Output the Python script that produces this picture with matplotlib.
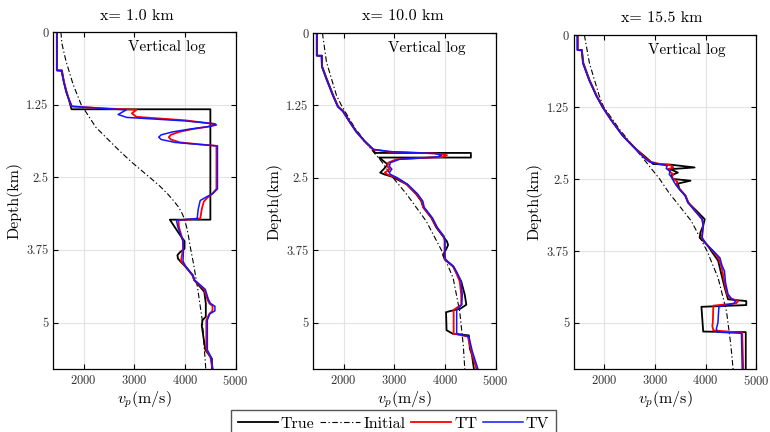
import matplotlib
matplotlib.use("Agg")
import matplotlib.pyplot as plt

plt.rcParams["font.family"] = "cmr10"
plt.rcParams["mathtext.fontset"] = "cm"
plt.rcParams["axes.unicode_minus"] = False
plt.rcParams["axes.formatter.use_mathtext"] = True

# ---- panel 1 : x = 1.0 km ----
depth_true_1 = [0, 0.66, 0.66, 0.86, 1.04, 1.14, 1.30, 1.33, 1.33, 3.23, 3.23, 3.48, 3.60,
                3.73, 3.79, 3.84, 3.90, 3.96, 4.02, 4.19, 4.27, 4.47, 4.67, 4.90, 4.96,
                5.05, 5.47, 5.59, 5.62, 5.8]
vp_true_1 = [1470, 1470, 1570, 1610, 1665, 1700, 1750, 1760, 4500, 4500, 3700, 3890, 3990,
             3990, 3900, 3850, 3860, 3920, 3990, 4150, 4180, 4380, 4410, 4410, 4345,
             4330, 4400, 4500, 4530, 4530]
depth_init_1 = [0, 0.2, 0.5, 0.9, 1.25, 1.64, 2.04, 2.25, 2.5, 2.65, 2.79, 2.9, 3.0, 3.1,
                3.19, 3.35, 3.5, 3.73, 4.0, 4.39, 4.96, 5.8]
vp_init_1 = [1550, 1570, 1650, 1790, 1950, 2240, 2700, 2960, 3300, 3500, 3660, 3770, 3860,
             3930, 3975, 4030, 4065, 4110, 4170, 4245, 4340, 4410]
depth_tt_1 = [0, 0.66, 0.67, 0.86, 1.04, 1.14, 1.28, 1.31, 1.34, 1.40, 1.46, 1.52, 1.58,
              1.60, 1.63, 1.67, 1.72, 1.77, 1.81, 1.85, 1.90, 1.93, 1.96, 2.70, 2.78,
              2.86, 2.92, 3.05, 3.21, 3.24, 3.36, 3.60, 3.73, 3.94, 4.02, 4.19, 4.27, 4.43,
              4.60, 4.67, 4.72, 4.80, 4.85, 4.96, 5.47, 5.59, 5.8]
vp_tt_1 = [1470, 1470, 1565, 1610, 1660, 1700, 1760, 2300, 3040, 2950, 3040, 4000, 4560,
           4590, 4450, 4150, 3880, 3720, 3680, 3720, 3900, 4250, 4620, 4620, 4540,
           4430, 4370, 4330, 4300, 3870, 3880, 3960, 3960, 3920, 4000, 4150, 4180, 4380,
           4440, 4480, 4545, 4540, 4480, 4420, 4420, 4500, 4540]
depth_tv_1 = [0, 0.66, 0.67, 0.86, 1.04, 1.14, 1.28, 1.31, 1.34, 1.42, 1.47, 1.53, 1.58,
              1.60, 1.63, 1.67, 1.72, 1.77, 1.81, 1.85, 1.90, 1.93, 1.96, 2.70, 2.78,
              2.84, 2.90, 3.05, 3.21, 3.24, 3.36, 3.60, 3.73, 3.94, 4.02, 4.19, 4.27, 4.43,
              4.60, 4.67, 4.72, 4.80, 4.85, 4.96, 5.47, 5.59, 5.8]
vp_tv_1 = [1470, 1470, 1560, 1605, 1655, 1700, 1770, 2300, 2840, 2680, 2850, 4000, 4590,
           4620, 4450, 4100, 3750, 3530, 3480, 3530, 3800, 4200, 4640, 4640, 4550,
           4420, 4300, 4260, 4240, 3830, 3860, 3960, 3970, 3960, 4000, 4160, 4190, 4400,
           4460, 4500, 4590, 4590, 4490, 4440, 4440, 4510, 4550]

# ---- panel 2 : x = 10.0 km ----
depth_true_2 = [0, 0.39, 0.39, 0.58, 0.78, 1.07, 1.27, 1.35, 1.53, 1.70, 1.87, 2.01, 2.07,
                2.07, 2.15, 2.15, 2.27, 2.35, 2.41, 2.44, 2.48, 2.61, 2.78, 2.90, 3.01,
                3.19, 3.36, 3.51, 3.60, 3.66, 3.72, 3.83, 3.91, 4.03, 4.14, 4.29, 4.52,
                4.69, 4.76, 4.80, 4.82, 5.13, 5.19, 5.22, 5.45, 5.55, 5.8]
vp_true_2 = [1475, 1475, 1570, 1575, 1660, 1790, 1890, 1990, 2120, 2250, 2415, 2580, 2620,
             4510, 4510, 2700, 2870, 2790, 2720, 2800, 2950, 3240, 3430, 3530, 3570,
             3730, 3830, 3960, 4040, 4060, 4030, 3960, 3995, 4160, 4225, 4320, 4390,
             4420, 4300, 4100, 4020, 4030, 4150, 4470, 4490, 4530, 4570]
depth_init_2 = [0, 0.5, 1.07, 1.25, 1.64, 2.01, 2.21, 2.5, 2.78, 3.25, 3.75, 4.23, 4.81,
                5.39, 5.8]
vp_init_2 = [1580, 1660, 1855, 1955, 2220, 2545, 2740, 2975, 3240, 3630, 3930, 4160, 4290,
             4360, 4390]
depth_tt_2 = [0, 0.39, 0.40, 0.58, 0.78, 1.07, 1.27, 1.35, 1.53, 1.70, 1.87, 2.01, 2.05,
              2.08, 2.11, 2.14, 2.18, 2.24, 2.30, 2.35, 2.41, 2.44, 2.50, 2.61, 2.78, 2.90,
              3.01, 3.19, 3.36, 3.51, 3.58, 3.83, 3.91, 4.03, 4.14, 4.29, 4.52, 4.69, 4.78,
              5.19, 5.24, 5.50, 5.8]
vp_tt_2 = [1470, 1470, 1565, 1570, 1655, 1785, 1885, 1985, 2115, 2245, 2410, 2580, 2900,
           3830, 4040, 3950, 3040, 2875, 2860, 2910, 2810, 2860, 3040, 3240, 3440, 3540,
           3570, 3735, 3840, 3970, 3990, 3990, 4000, 4160, 4220, 4290, 4320, 4320, 4170,
           4170, 4450, 4520, 4620]
depth_tv_2 = depth_tt_2
vp_tv_2 = [1465, 1465, 1560, 1568, 1650, 1780, 1880, 1980, 2110, 2240, 2420, 2590, 2950,
           3800, 3930, 3850, 3100, 2920, 2900, 2950, 2900, 2920, 3060, 3260, 3460, 3560,
           3590, 3750, 3850, 3980, 4000, 4000, 4010, 4170, 4240, 4320, 4340, 4330, 4230,
           4230, 4470, 4540, 4650]

# ---- panel 3 : x = 15.5 km ----
depth_true_3 = [0, 0.26, 0.26, 0.30, 0.49, 0.78, 1.06, 1.25, 1.47, 1.75, 1.98, 2.13, 2.18,
                2.24, 2.25, 2.30, 2.33, 2.39, 2.44, 2.50, 2.53, 2.58, 2.67, 2.79, 2.91,
                3.05, 3.20, 3.31, 3.43, 3.52, 3.63, 3.75, 3.92, 4.16, 4.39, 4.59, 4.62,
                4.69, 4.72, 5.15, 5.16, 5.8]
vp_true_3 = [1472, 1472, 1558, 1560, 1585, 1705, 1850, 1967, 2130, 2365, 2625, 2825, 2890,
             2960, 3290, 3780, 3300, 3450, 3310, 3350, 3700, 3450, 3480, 3600, 3650,
             3815, 3980, 3950, 3895, 3880, 4015, 4110, 4245, 4310, 4375, 4440, 4800,
             4800, 3915, 3950, 4790, 4790]
depth_init_3 = [0, 0.49, 1.06, 1.25, 1.64, 2.10, 2.5, 2.76, 2.9, 3.23, 3.75, 4.22, 4.80,
                5.38, 5.8]
vp_init_3 = [1605, 1705, 1900, 1985, 2300, 2725, 3090, 3290, 3420, 3715, 4025, 4245, 4410,
             4495, 4540]
depth_tt_3 = [0, 0.26, 0.27, 0.49, 0.78, 1.06, 1.25, 1.47, 1.75, 1.98, 2.13, 2.20, 2.24,
              2.26, 2.30, 2.33, 2.38, 2.42, 2.47, 2.51, 2.55, 2.60, 2.67, 2.79, 2.91, 3.05,
              3.20, 3.31, 3.52, 3.63, 3.75, 3.87, 4.00, 4.10, 4.30, 4.50, 4.57, 4.62, 4.66,
              4.70, 4.99, 5.05, 5.13, 5.17, 5.8]
vp_tt_3 = [1472, 1472, 1555, 1580, 1700, 1845, 1965, 2130, 2365, 2620, 2800, 2900, 3100,
           3300, 3360, 3250, 3300, 3360, 3330, 3380, 3440, 3420, 3480, 3600, 3660, 3790,
           3930, 3950, 3920, 4010, 4140, 4250, 4300, 4330, 4370, 4420, 4480, 4640, 4600,
           4150, 4140, 4130, 4150, 4720, 4740]
depth_tv_3 = [0, 0.26, 0.27, 0.49, 0.78, 1.06, 1.25, 1.47, 1.75, 1.98, 2.13, 2.20, 2.24,
              2.27, 2.32, 2.36, 2.42, 2.47, 2.53, 2.60, 2.67, 2.79, 2.91, 3.05, 3.20, 3.31,
              3.52, 3.63, 3.75, 3.87, 4.00, 4.10, 4.30, 4.50, 4.57, 4.62, 4.66, 4.72, 5.00,
              5.10, 5.16, 5.18, 5.8]
vp_tv_3 = [1465, 1465, 1550, 1575, 1695, 1840, 1960, 2125, 2360, 2610, 2780, 2880, 3050,
           3240, 3220, 3300, 3280, 3330, 3360, 3410, 3470, 3590, 3650, 3780, 3930, 3950,
           3930, 4010, 4150, 4280, 4320, 4370, 4390, 4440, 4500, 4590, 4560, 4260, 4240,
           4210, 4230, 4705, 4720]

titles = ["x= 1.0 km", "x= 10.0 km", "x= 15.5 km"]
xticks = [2000, 3000, 4000, 5000]
yticks = [0, 1.25, 2.5, 3.75, 5]
ytick_labels = ["0", "1.25", "2.5", "3.75", "5"]

panels = [
    (depth_true_1, vp_true_1, depth_init_1, vp_init_1, depth_tt_1, vp_tt_1, depth_tv_1, vp_tv_1),
    (depth_true_2, vp_true_2, depth_init_2, vp_init_2, depth_tt_2, vp_tt_2, depth_tv_2, vp_tv_2),
    (depth_true_3, vp_true_3, depth_init_3, vp_init_3, depth_tt_3, vp_tt_3, depth_tv_3, vp_tv_3),
]

# axes boxes in figure pixels (left, top) for a 770x432 canvas
W, H = 770, 432
boxes = [(53.3, 32), (313.3, 33), (574, 35)]
title_x = [0.46, 0.49, 0.48]
ax_w, ax_bottom = 182.4, 369

fig = plt.figure(figsize=(7.7, 4.32), dpi=100)
for i, (box, data) in enumerate(zip(boxes, panels)):
    left, top = box
    ax = fig.add_axes([left / W, (H - ax_bottom) / H, ax_w / W, (ax_bottom - top) / H])
    dt, vt, di, vi, dtt, vtt, dtv, vtv = data
    ax.plot(vt, dt, color="k", lw=1.3, label="True")
    ax.plot(vi, di, color="k", lw=0.8, dashes=(5, 2.2, 1.2, 2.2), label="Initial")
    ax.plot(vtt, dtt, color="#ff0000", lw=1.3, label="TT")
    ax.plot(vtv, dtv, color="#1414ff", lw=1.1, label="TV")
    ax.set_xlim(1400, 5000)
    ax.set_ylim(5.8, 0)
    ax.set_xticks(xticks)
    ax.set_yticks(yticks)
    ax.set_yticklabels(ytick_labels)
    ax.tick_params(direction="in", top=True, right=True, length=3.5, width=0.8,
                   labelsize=9, colors="k", labelcolor="#333333")
    ax.grid(True, color="#e3e3e3", lw=0.8)
    ax.set_axisbelow(True)
    for sp in ax.spines.values():
        sp.set_linewidth(0.9)
    ax.set_title(titles[i], fontsize=11.5, pad=9, x=title_x[i])
    ax.set_xlabel(r"$v_p\mathrm{(m/s)}$", fontsize=11.5, labelpad=1)
    ax.set_ylabel("Depth(km)", fontsize=11.5, labelpad=3)
    ax.text(0.62, 0.955, "Vertical log", transform=ax.transAxes, ha="center",
            va="center", fontsize=11)
    if i == 0:
        handles, labels = ax.get_legend_handles_labels()

fig.legend(handles, labels, loc="upper center", bbox_to_anchor=(0.511, 0.051), ncol=4,
           fontsize=11.5, frameon=True, fancybox=False, edgecolor="#555555",
           framealpha=1, handlelength=2.5, handletextpad=0.2, columnspacing=0.35,
           borderpad=0.4, borderaxespad=0)

fig.savefig("out.png", dpi=100)
